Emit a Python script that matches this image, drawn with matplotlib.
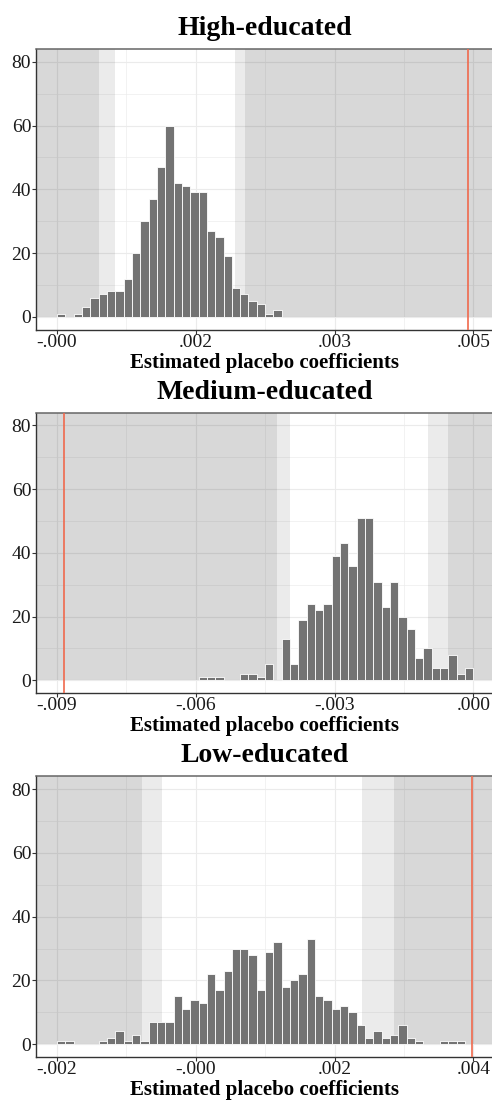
import numpy as np
import matplotlib.pyplot as plt
from matplotlib.patches import Rectangle

# ---- data -----------------------------------------------------------------
panel_titles = ["High-educated", "Medium-educated", "Low-educated"]
x_label = "Estimated placebo coefficients"

# x-range of each histogram (50 equal bins span this range)
range_high = (0.0, 0.005)
range_medium = (-0.009, 0.0)
range_low = (-0.002, 0.004)

# tick labels shown on the x axes (4 ticks spread over the range)
ticks_high = ["-.000", ".002", ".003", ".005"]
ticks_medium = ["-.009", "-.006", "-.003", ".000"]
ticks_low = ["-.002", "-.000", ".002", ".004"]

# counts per bin (500 placebo estimates per group)
counts_high = [1, 0, 1, 3, 6, 7, 8, 8, 12, 20, 30, 37, 47, 60, 42, 41, 39, 39,
               27, 25, 19, 9, 7, 5, 4, 1, 2] + [0] * 23
counts_medium = [0] * 17 + [1, 1, 1, 0, 0, 2, 2, 1, 5, 0, 13, 5, 19, 24, 22,
                            24, 39, 43, 36, 51, 51, 31, 23, 31, 20, 16, 7, 10,
                            4, 4, 8, 2, 4]
counts_low = [1, 1, 0, 0, 0, 1, 2, 4, 1, 3, 1, 7, 7, 7, 15, 11, 14, 13, 22, 17,
              23, 30, 30, 28, 17, 29, 32, 18, 20, 22, 33, 15, 14, 11, 12, 10, 6,
              2, 4, 2, 3, 6, 2, 1, 0, 0, 1, 1, 1, 0]

# placebo intervals: (inner lower, inner upper), (outer lower, outer upper)
inner_high, outer_high = (0.000697, 0.002138), (0.000504, 0.002258)
inner_medium, outer_medium = (-0.003963, -0.000979), (-0.004250, -0.000547)
inner_low, outer_low = (-0.000487, 0.002396), (-0.000779, 0.002857)

# actual estimated coefficients
actual_high = 0.004933
actual_medium = -0.008842
actual_low = 0.003981

y_ticks = [0, 20, 40, 60, 80]

panels = [
    (panel_titles[0], range_high, ticks_high, counts_high, inner_high, outer_high, actual_high),
    (panel_titles[1], range_medium, ticks_medium, counts_medium, inner_medium, outer_medium, actual_medium),
    (panel_titles[2], range_low, ticks_low, counts_low, inner_low, outer_low, actual_low),
]

# ---- figure ---------------------------------------------------------------
plt.rcParams["font.family"] = ["Liberation Serif", "DejaVu Serif"]

W, H = 492, 1103
fig = plt.figure(figsize=(W / 100, H / 100), dpi=100)

ax_left_px, ax_right_px = 36.2, 494.1
panel_tops = [49.0, 412.6, 776.4]
panel_h = 280.5

grid_col = "#ebebeb"
bar_col = "#737373"
red = "#f0694d"

for (title, (lo, hi), tlabels, counts, inner, outer, actual), top in zip(panels, panel_tops):
    ax = fig.add_axes([ax_left_px / W, 1 - (top + panel_h) / H,
                       (ax_right_px - ax_left_px) / W, panel_h / H])
    span = hi - lo
    xmin, xmax = lo - 0.05 * span, hi + 0.05 * span
    ax.set_xlim(xmin, xmax)
    ax.set_ylim(-4, 84)

    # grid
    major_x = np.linspace(lo, hi, 4)
    minor_x = (major_x[:-1] + major_x[1:]) / 2
    ax.set_xticks(major_x)
    ax.set_xticklabels(tlabels)
    ax.set_xticks(minor_x, minor=True)
    ax.set_yticks(y_ticks)
    ax.set_yticks([10, 30, 50, 70], minor=True)
    ax.grid(True, which="major", color=grid_col, lw=0.8, zorder=0)
    ax.grid(True, which="minor", color=grid_col, lw=0.45, zorder=0)
    ax.set_axisbelow(True)

    # shaded regions outside the placebo intervals (two overlapping layers)
    for (a, b) in (inner, outer):
        for x0, x1 in ((xmin - span, a), (b, xmax + span)):
            ax.add_patch(Rectangle((x0, 0), x1 - x0, 200, facecolor="black",
                                   alpha=0.078, lw=0, zorder=1))

    # histogram bars
    edges = np.linspace(lo, hi, len(counts) + 1)
    c = np.asarray(counts)
    nz = c > 0
    ax.bar(edges[:-1][nz], c[nz], width=span / len(counts), align="edge",
           color=bar_col, edgecolor="white", linewidth=0.6, zorder=2)

    # actual estimate
    ax.axvline(actual, color=red, lw=1.2, zorder=3)

    # frame
    for s in ("left", "bottom"):
        ax.spines[s].set_color("#333333")
        ax.spines[s].set_linewidth(1.0)
    ax.spines["top"].set_color("#666666")
    ax.spines["top"].set_linewidth(1.1)
    ax.spines["right"].set_visible(False)
    ax.tick_params(which="major", length=2.6, width=0.8, color="#333333",
                   labelsize=14, labelcolor="#1a1a1a")
    ax.tick_params(axis="x", which="major", pad=0.5)
    ax.tick_params(axis="y", which="major", pad=1)
    ax.tick_params(which="minor", length=0)

    # titles
    fig.text(265 / W, 1 - (top - 14) / H, title, ha="center", va="baseline",
             fontsize=20, fontweight="bold")
    fig.text(265 / W, 1 - (top + panel_h + 38.4) / H, x_label, ha="center",
             va="baseline", fontsize=15, fontweight="bold")

fig.savefig("out.png", dpi=100)
